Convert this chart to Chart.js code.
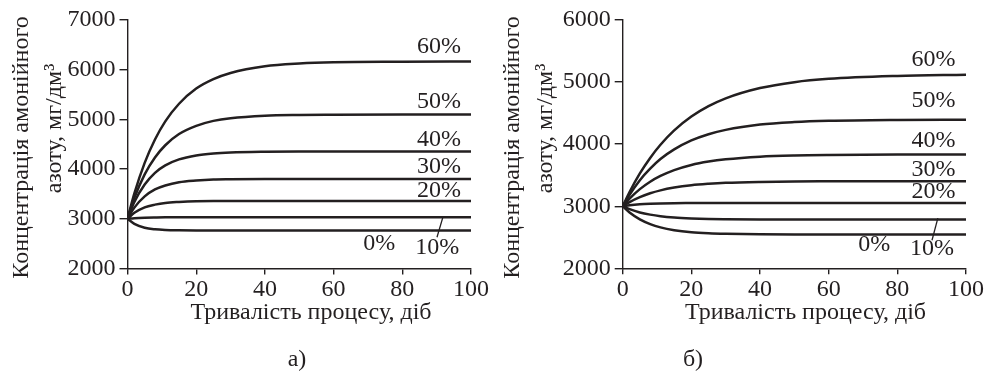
<!DOCTYPE html>
<html>
<head>
<meta charset="utf-8">
<script src="https://cdn.jsdelivr.net/npm/chart.js@4/dist/chart.umd.min.js"></script>
<style>
  body { margin: 0; background: #fff; }
  .wrap { position: absolute; top: 0; height: 371px; }
  #wrapA { left: 0; width: 494px; }
  #wrapB { left: 494px; width: 495px; }
</style>
</head>
<body>
<div class="wrap" id="wrapA"><canvas id="chartA"></canvas></div>
<div class="wrap" id="wrapB"><canvas id="chartB"></canvas></div>
<script>
const days = [0, 2, 5, 8, 11, 15, 20, 25, 30, 40, 50, 60, 80, 100];
const seriesNames = ['60%', '50%', '40%', '30%', '20%', '10%', '0%'];
const yTicksA = [2000, 3000, 4000, 5000, 6000, 7000];
const yTicksB = [2000, 3000, 4000, 5000, 6000];
const xTicks = [0, 20, 40, 60, 80, 100];

// а)
const a60 = [3000, 3510, 4125, 4595, 4960, 5315, 5620, 5810, 5935, 6070, 6125, 6150, 6160, 6165];
const a50 = [3000, 3420, 3895, 4235, 4480, 4705, 4870, 4970, 5025, 5075, 5090, 5095, 5100, 5100];
const a40 = [3000, 3340, 3690, 3925, 4075, 4195, 4275, 4315, 4335, 4350, 4355, 4355, 4355, 4355];
const a30 = [3000, 3225, 3450, 3590, 3670, 3735, 3770, 3790, 3795, 3800, 3800, 3800, 3800, 3800];
const a20 = [3000, 3120, 3230, 3285, 3320, 3340, 3355, 3360, 3360, 3360, 3360, 3360, 3360, 3360];
const a10 = [3000, 3012, 3022, 3027, 3030, 3030, 3030, 3030, 3030, 3030, 3030, 3030, 3030, 3030];
const a0  = [3000, 2898, 2821, 2789, 2775, 2768, 2765, 2765, 2765, 2765, 2765, 2765, 2765, 2765];

// б)
const b60 = [3000, 3229, 3528, 3778, 3990, 4221, 4444, 4611, 4738, 4904, 4999, 5052, 5099, 5120];
const b50 = [3000, 3185, 3420, 3605, 3760, 3915, 4060, 4160, 4230, 4315, 4355, 4375, 4390, 4395];
const b40 = [3000, 3123, 3275, 3394, 3487, 3582, 3665, 3720, 3757, 3799, 3818, 3826, 3832, 3833];
const b30 = [3000, 3067, 3147, 3208, 3255, 3300, 3338, 3361, 3377, 3392, 3399, 3401, 3403, 3403];
const b20 = [3000, 3015, 3030, 3039, 3045, 3049, 3051, 3053, 3053, 3053, 3053, 3053, 3053, 3053];
const b10 = [3000, 2953, 2900, 2865, 2840, 2819, 2804, 2795, 2791, 2787, 2786, 2786, 2786, 2786];
const b0  = [3000, 2899, 2788, 2712, 2659, 2614, 2581, 2564, 2555, 2547, 2544, 2544, 2544, 2544];

const ink = '#231f20';
const serif = '"Liberation Serif", "Times New Roman", serif';
const font24 = '24px ' + serif;
const yTitle = ['Концентрація амонійного', 'азоту, мг/дм³'];
const xTitle = 'Тривалість процесу, діб';

// draws axis titles, panel letter and curve labels
const sideText = {
    id: 'sideText',
    afterDraw(chart, args, o) {
        const ctx = chart.ctx;
        const xs = chart.scales.x;
        const ys = chart.scales.y;
        ctx.save();
        ctx.fillStyle = ink;
        ctx.strokeStyle = ink;
        ctx.font = font24;
        ctx.textAlign = 'center';
        ctx.textBaseline = 'middle';
        yTitle.forEach((t, i) => {
            ctx.save();
            ctx.translate(o.yTitleX[i], o.yTitleY[i]);
            ctx.rotate(-Math.PI / 2);
            ctx.fillText(t, 0, 0);
            ctx.restore();
        });
        ctx.fillText(xTitle, o.xTitleX, 313);
        ctx.fillText(o.panel, o.panelX, 360);
        o.curveLabels.forEach(l => {
            ctx.fillText(l.text, xs.getPixelForValue(l.x), ys.getPixelForValue(l.y));
        });
        ctx.lineWidth = 1.3;
        ctx.beginPath();
        ctx.moveTo(xs.getPixelForValue(o.leader[0]), ys.getPixelForValue(o.leader[1]));
        ctx.lineTo(xs.getPixelForValue(o.leader[2]), ys.getPixelForValue(o.leader[3]));
        ctx.stroke();
        ctx.restore();
    }
};

function makeChart(canvasId, series, yTicks, opts) {
    return new Chart(document.getElementById(canvasId), {
        type: 'line',
        data: {
            datasets: series.map((vals, i) => ({
                label: seriesNames[i],
                data: days.map((d, j) => ({ x: d, y: vals[j] })),
                borderColor: ink,
                borderWidth: 2.5,
                pointRadius: 0,
                cubicInterpolationMode: 'monotone',
                fill: false
            }))
        },
        options: {
            responsive: true,
            maintainAspectRatio: false,
            animation: false,
            layout: { padding: { top: 20, right: opts.padRight, left: 0, bottom: 0 } },
            plugins: {
                legend: { display: false },
                tooltip: { enabled: false },
                sideText: opts
            },
            scales: {
                x: {
                    type: 'linear',
                    min: xTicks[0],
                    max: xTicks[xTicks.length - 1],
                    afterBuildTicks: s => { s.ticks = xTicks.map(v => ({ value: v })); },
                    ticks: { color: ink, font: { family: serif, size: 24, lineHeight: 1 }, padding: 3, maxRotation: 0, callback: v => String(v) },
                    grid: { drawOnChartArea: false, tickLength: 6, color: ink, lineWidth: 1.4 },
                    border: { color: ink, width: 1.4 },
                    afterFit: s => { s.height = 371 - opts.plotBottom; }
                },
                y: {
                    min: yTicks[0],
                    max: yTicks[yTicks.length - 1],
                    afterBuildTicks: s => { s.ticks = yTicks.map(v => ({ value: v })); },
                    ticks: { color: ink, font: { family: serif, size: 24, lineHeight: 1 }, padding: 4, callback: v => String(v) },
                    grid: { drawOnChartArea: false, tickLength: 8, color: ink, lineWidth: 1.4 },
                    border: { color: ink, width: 1.4 },
                    afterFit: s => { s.width = opts.plotLeft; }
                }
            }
        },
        plugins: [sideText]
    });
}

makeChart('chartA', [a60, a50, a40, a30, a20, a10, a0], yTicksA, {
    plotLeft: 127.5, plotBottom: 268.5, padRight: 23,
    yTitleX: [22, 55], yTitleY: [147.5, 128.5],
    xTitleX: 311, panel: 'а)', panelX: 297,
    curveLabels: [
        { text: '60%', x: 90.7, y: 6467 },
        { text: '50%', x: 90.7, y: 5366 },
        { text: '40%', x: 90.7, y: 4588 },
        { text: '30%', x: 90.7, y: 4039 },
        { text: '20%', x: 90.7, y: 3563 },
        { text: '0%', x: 73.3, y: 2502 },
        { text: '10%', x: 90.2, y: 2417 }
    ],
    leader: [90.1, 2628, 91.8, 3030]
});

makeChart('chartB', [b60, b50, b40, b30, b20, b10, b0], yTicksB, {
    plotLeft: 128.7, plotBottom: 268.3, padRight: 23,
    yTitleX: [19, 52], yTitleY: [147.5, 128.5],
    xTitleX: 311.5, panel: 'б)', panelX: 199,
    curveLabels: [
        { text: '60%', x: 90.5, y: 5364 },
        { text: '50%', x: 90.5, y: 4694 },
        { text: '40%', x: 90.5, y: 4050 },
        { text: '30%', x: 90.5, y: 3593 },
        { text: '20%', x: 90.5, y: 3229 },
        { text: '0%', x: 73.3, y: 2377 },
        { text: '10%', x: 90.1, y: 2319 }
    ],
    leader: [90.1, 2452, 91.8, 2807]
});
</script>
</body>
</html>
